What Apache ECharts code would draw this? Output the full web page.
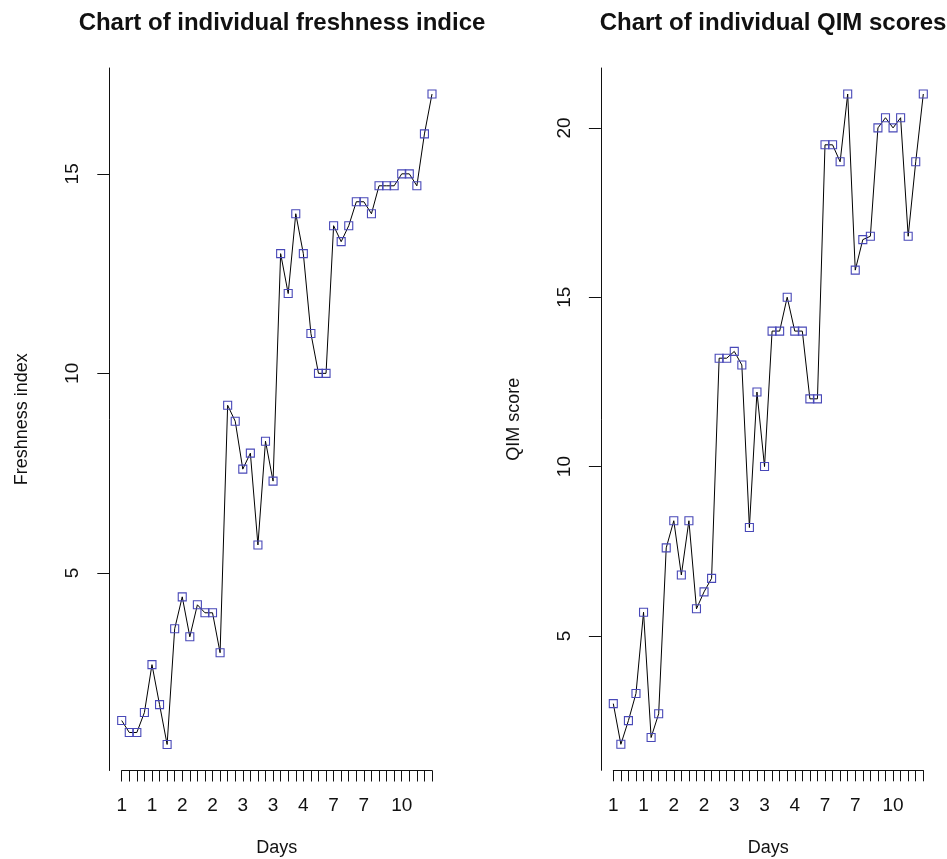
<!DOCTYPE html>
<html>
<head>
<meta charset="utf-8">
<title>Freshness and QIM scores</title>
<script src="https://cdn.jsdelivr.net/npm/echarts@6/dist/echarts.min.js"></script>
<style>
  html, body { margin: 0; padding: 0; background: #fff; }
  #chart { width: 947px; height: 859px; }
</style>
</head>
<body>
<div id="chart"></div>
<script>
// Storage day of each sampled fish (seven fish per sampling day)
const sampleDay = [1, 1, 1, 1, 1, 1, 1,
  2, 2, 2, 2, 2, 2, 2,
  3, 3, 3, 3, 3, 3, 3,
  4, 4, 4, 4, 4, 4, 4,
  7, 7, 7, 7, 7, 7, 7,
  10, 10, 10, 10, 10, 10, 10];

// Individual observations, in sampling order
const freshnessIndex = [1.3, 1.0, 1.0, 1.5, 2.7, 1.7, 0.7, 3.6, 4.4, 3.4, 4.2, 4.0, 4.0, 3.0,
  9.2, 8.8, 7.6, 8.0, 5.7, 8.3, 7.3, 13.0, 12.0, 14.0, 13.0, 11.0, 10.0, 10.0,
  13.7, 13.3, 13.7, 14.3, 14.3, 14.0, 14.7, 14.7, 14.7, 15.0, 15.0, 14.7, 16.0, 17.0];
const qimScore = [3.0, 1.8, 2.5, 3.3, 5.7, 2.0, 2.7, 7.6, 8.4, 6.8, 8.4, 5.8, 6.3, 6.7,
  13.2, 13.2, 13.4, 13.0, 8.2, 12.2, 10.0, 14.0, 14.0, 15.0, 14.0, 14.0, 12.0, 12.0,
  19.5, 19.5, 19.0, 21.0, 15.8, 16.7, 16.8, 20.0, 20.3, 20.0, 20.3, 16.8, 19.0, 21.0];

// Observations whose day is printed under the axis (the rest would overlap)
const labelledObs = [1, 5, 9, 13, 17, 21, 25, 29, 33, 38];
const freshnessTicks = [5, 10, 15];
const qimTicks = [5, 10, 15, 20];

const FONT = '"Liberation Sans", Arial, Helvetica, sans-serif';
const INK = '#111';

// pad a data range by 4% on each side
function padded(values) {
  const lo = Math.min(...values), hi = Math.max(...values);
  const d = (hi - lo) * 0.04;
  return [lo - d, hi + d];
}

const n = freshnessIndex.length;
const obsIndex = freshnessIndex.map((_, i) => i + 1);
const fRange = padded(freshnessIndex);
const qRange = padded(qimScore);

function xAxisFor(gridIndex) {
  return {
    gridIndex: gridIndex,
    type: 'value',
    min: 1, max: n, interval: 1,
    name: 'Days',
    nameLocation: 'middle',
    nameGap: 69,
    nameMoveOverlap: false,
    nameTextStyle: { fontFamily: FONT, fontSize: 18, color: INK },
    axisLine: { show: true, lineStyle: { color: INK, width: 1 } },
    axisTick: { show: true, length: 11, lineStyle: { color: INK, width: 1 } },
    axisLabel: {
      customValues: labelledObs,
      margin: 26,
      fontFamily: FONT, fontSize: 19, color: INK,
      formatter: v => String(sampleDay[v - 1])
    },
    splitLine: { show: false }
  };
}

function yAxisFor(gridIndex, range, ticks, name) {
  return {
    gridIndex: gridIndex,
    type: 'value',
    min: range[0], max: range[1],
    offset: 12.4,
    name: name,
    nameLocation: 'middle',
    nameRotate: 90,
    nameGap: 78,
    nameMoveOverlap: false,
    nameTextStyle: { fontFamily: FONT, fontSize: 18, color: INK },
    axisLine: { show: true, lineStyle: { color: INK, width: 1 } },
    axisTick: { show: true, length: 12, customValues: ticks, lineStyle: { color: INK, width: 1 } },
    axisLabel: {
      customValues: ticks,
      rotate: 90,
      margin: 27,
      fontFamily: FONT, fontSize: 19, color: INK
    },
    splitLine: { show: false }
  };
}

function seriesFor(index, values) {
  return {
    type: 'line',
    xAxisIndex: index, yAxisIndex: index,
    data: values.map((v, i) => [obsIndex[i], v]),
    symbol: 'rect',
    symbolSize: 8,
    showAllSymbol: true,
    lineStyle: { color: '#000', width: 1 },
    itemStyle: { color: 'rgba(0,0,0,0)', borderColor: '#4848b8', borderWidth: 1.1 },
    emphasis: { disabled: true },
    animation: false
  };
}

const chart = echarts.init(document.getElementById('chart'), null, { renderer: 'canvas' });
chart.setOption({
  backgroundColor: '#fff',
  animation: false,
  title: [
    { text: 'Chart of individual freshness indice', left: 277, top: 6, textAlign: 'center',
      textStyle: { fontFamily: FONT, fontSize: 24, fontWeight: 'bold', color: INK } },
    { text: 'Chart of individual QIM scores', left: 768, top: 6, textAlign: 'center',
      textStyle: { fontFamily: FONT, fontSize: 24, fontWeight: 'bold', color: INK } }
  ],
  grid: [
    { left: 121.7, width: 310.3, top: 68, height: 702.5, outerBoundsMode: 'none' },
    { left: 613.3, width: 310, top: 68, height: 702.3, outerBoundsMode: 'none' }
  ],
  xAxis: [xAxisFor(0), xAxisFor(1)],
  yAxis: [
    yAxisFor(0, fRange, freshnessTicks, 'Freshness index'),
    yAxisFor(1, qRange, qimTicks, 'QIM score')
  ],
  series: [seriesFor(0, freshnessIndex), seriesFor(1, qimScore)]
});
</script>
</body>
</html>
